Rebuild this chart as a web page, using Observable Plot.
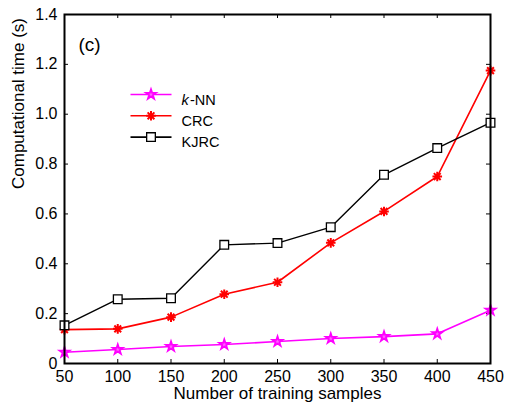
<!DOCTYPE html>
<html><head><meta charset="utf-8">
<script src="https://cdn.jsdelivr.net/npm/d3@7"></script>
<script src="https://cdn.jsdelivr.net/npm/@observablehq/plot@0.6"></script>
<style>
body{margin:0;background:#fff;}
svg{font-family:Arial,"Liberation Sans",sans-serif;}
</style>
</head><body><div id="chart"></div>
<script>
// ---- data ----
const samples = [50, 100, 150, 200, 250, 300, 350, 400, 450];
const knn  = [0.045, 0.056, 0.068, 0.076, 0.088, 0.100, 0.108, 0.119, 0.214];
const crc  = [0.136, 0.139, 0.186, 0.278, 0.326, 0.484, 0.610, 0.750, 1.175];
const kjrc = [0.153, 0.258, 0.262, 0.476, 0.483, 0.547, 0.757, 0.864, 0.966];
const seriesNames = ["k-NN", "CRC", "KJRC"];
const seriesColors = ["#ff00ff", "#ff0000", "#000000"];
const xTicks = [50, 100, 150, 200, 250, 300, 350, 400, 450];
const yTicks = [0, 0.2, 0.4, 0.6, 0.8, 1.0, 1.2, 1.4];
const yTickLabels = ["0", "0.2", "0.4", "0.6", "0.8", "1.0", "1.2", "1.4"];
const xLabel = "Number of training samples";
const yLabel = "Computational time (s)";
const panelLabel = "(c)";

// ---- build table ----
const values = {"k-NN": knn, "CRC": crc, "KJRC": kjrc};
const rows = seriesNames.flatMap(s => samples.map((x, i) => ({series: s, x, y: values[s][i]})));

// ---- layout ----
const W = 514, H = 410;
const mT = 14, mB = 47, mL = 64, mR = 24;
const plotW = W - mL - mR, plotH = H - mT - mB;
const tickLen = 4;

// ---- symbols ----
const asterisk = {
  draw(ctx, size) {
    const r = Math.sqrt(size / Math.PI);
    for (let k = 0; k < 4; k++) {
      const a = k * Math.PI / 4;
      ctx.moveTo(-r * Math.cos(a), -r * Math.sin(a));
      ctx.lineTo(r * Math.cos(a), r * Math.sin(a));
    }
  }
};
const legendLine = {
  draw(ctx) { ctx.moveTo(-20.5, 0); ctx.lineTo(20.5, 0); }
};
const symbolFor = {"k-NN": "star", "CRC": asterisk, "KJRC": "square"};
const rFor = {"k-NN": 3.1, "CRC": 4.8, "KJRC": 4.9};
const swFor = {"k-NN": 1.8, "CRC": 2, "KJRC": 1.3};
const fillFor = {"k-NN": "#ff66ff", "CRC": "none", "KJRC": "white"};

const marks = [];
// inward ticks on all four sides
marks.push(Plot.tickX(xTicks, {x: d => d, insetTop: plotH - tickLen, stroke: "black", strokeWidth: 1}));
marks.push(Plot.tickX(xTicks, {x: d => d, insetBottom: plotH - tickLen, stroke: "black", strokeWidth: 1}));
marks.push(Plot.tickY(yTicks, {y: d => d, insetRight: plotW - tickLen, stroke: "black", strokeWidth: 1}));
marks.push(Plot.tickY(yTicks, {y: d => d, insetLeft: plotW - tickLen, stroke: "black", strokeWidth: 1}));

marks.push(Plot.axisX({ticks: xTicks, tickSize: 0, tickPadding: 7, fontSize: 16, label: null, fill: "black"}));
marks.push(Plot.axisY({ticks: yTicks, tickSize: 0, tickPadding: 7, fontSize: 16, label: null, fill: "black",
  tickFormat: d => yTickLabels[yTicks.findIndex(t => Math.abs(t - d) < 1e-9)]}));

// series
seriesNames.forEach(s => {
  const data = rows.filter(r => r.series === s);
  marks.push(Plot.line(data, {x: "x", y: "y", stroke: "series", strokeWidth: s === "KJRC" ? 1.4 : 1.6}));
  marks.push(Plot.dot(data, {x: "x", y: "y", stroke: "series", symbol: symbolFor[s], r: rFor[s],
    strokeWidth: swFor[s], fill: fillFor[s]}));
});

marks.push(Plot.frame({stroke: "black", strokeWidth: 2}));

// legend
seriesNames.forEach((s, i) => {
  const dy = 80 + i * 21.3;
  marks.push(Plot.dot([s], {frameAnchor: "top-left", dx: 86.5, dy, symbol: legendLine, stroke: d => d, strokeWidth: 1.6, r: 5}));
  marks.push(Plot.dot([s], {frameAnchor: "top-left", dx: 86.5, dy, symbol: symbolFor[s], stroke: d => d, r: rFor[s],
    strokeWidth: swFor[s], fill: fillFor[s]}));
});
marks.push(Plot.text(["k"], {frameAnchor: "top-left", dx: 117, dy: 80, text: d => d, fontSize: 14.5, fontStyle: "italic", textAnchor: "start", fill: "black"}));
marks.push(Plot.text([seriesNames[0]], {frameAnchor: "top-left", dx: 125.5, dy: 80, text: d => d.slice(1), fontSize: 14.5, textAnchor: "start", fill: "black"}));
marks.push(Plot.text([seriesNames[1]], {frameAnchor: "top-left", dx: 117, dy: 101.3, text: d => d, fontSize: 14.5, textAnchor: "start", fill: "black"}));
marks.push(Plot.text([seriesNames[2]], {frameAnchor: "top-left", dx: 117, dy: 122.6, text: d => d, fontSize: 14.5, textAnchor: "start", fill: "black"}));

// panel label and axis titles
marks.push(Plot.text([panelLabel], {frameAnchor: "top-left", dx: 14, dy: 23, text: d => d, fontSize: 19, textAnchor: "start", fill: "black"}));
marks.push(Plot.text([xLabel], {frameAnchor: "bottom", dy: 35, text: d => d, fontSize: 17, fill: "black"}));
marks.push(Plot.text([yLabel], {frameAnchor: "left", dx: -46, rotate: -90, text: d => d, fontSize: 17, fill: "black"}));

const chart = Plot.plot({
  width: W, height: H,
  marginTop: mT, marginBottom: mB, marginLeft: mL, marginRight: mR,
  x: {domain: [50, 450]},
  y: {domain: [0, 1.4]},
  color: {domain: seriesNames, range: seriesColors},
  style: {fontFamily: "Arial, 'Liberation Sans', sans-serif", background: "white", overflow: "visible"},
  marks
});
document.getElementById("chart").appendChild(chart);
</script>
</body></html>
